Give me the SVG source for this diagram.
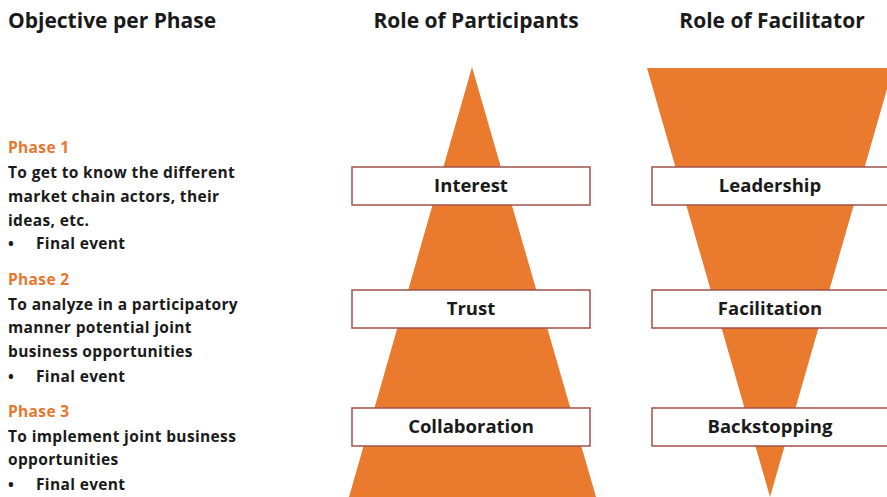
<svg xmlns="http://www.w3.org/2000/svg" width="887" height="497" viewBox="0 0 887 497">
<style>
text{font-family:"Open Sans","Liberation Sans",sans-serif;font-weight:700;fill:#1a1a1a}
.h{font-size:21px}
.b{font-size:15.5px;letter-spacing:0.35px}
.ph{fill:#E8762E}
.lbl{font-size:18.5px;text-anchor:middle}
.shape{fill:#E97A2E}
.box{fill:#fff;stroke:#A0524A;stroke-width:1.5}
</style>
<rect width="887" height="497" fill="#fff"/>
<g id="headers">
<text class="h" x="8" y="28">Objective per Phase</text>
<text class="h" x="476" y="28" text-anchor="middle">Role of Participants</text>
<text class="h" x="772" y="28" text-anchor="middle">Role of Facilitator</text>
</g>
<g id="objectives">
<text class="b ph" x="8" y="153">Phase 1</text>
<text class="b" x="8" y="178">To get to know the different</text>
<text class="b" x="8" y="202">market chain actors, their</text>
<text class="b" x="8" y="226">ideas, etc.</text>
<text class="b" x="8" y="249">•</text><text class="b" x="36" y="249">Final event</text>
<text class="b ph" x="8" y="285">Phase 2</text>
<text class="b" x="8" y="310">To analyze in a participatory</text>
<text class="b" x="8" y="333">manner potential joint</text>
<text class="b" x="8" y="357">business opportunities</text>
<text class="b" x="8" y="382">•</text><text class="b" x="36" y="382">Final event</text>
<text class="b ph" x="8" y="417">Phase 3</text>
<text class="b" x="8" y="442">To implement joint business</text>
<text class="b" x="8" y="465">opportunities</text>
<text class="b" x="8" y="490">•</text><text class="b" x="36" y="490">Final event</text>
</g>
<g id="participants-triangle"><polygon class="shape" points="472,67 596,497 349,497"/></g>
<g id="facilitator-funnel"><polygon class="shape" points="647,68 893,68 770,497"/></g>
<g id="node-interest"><rect class="box" x="352" y="167" width="238" height="38"/><text class="lbl" x="471" y="192">Interest</text></g>
<g id="node-trust"><rect class="box" x="352" y="290" width="238" height="38"/><text class="lbl" x="471" y="315">Trust</text></g>
<g id="node-collaboration"><rect class="box" x="352" y="408" width="238" height="38"/><text class="lbl" x="471" y="433">Collaboration</text></g>
<g id="node-leadership"><rect class="box" x="652" y="167" width="240" height="38"/><text class="lbl" x="770" y="192">Leadership</text></g>
<g id="node-facilitation"><rect class="box" x="652" y="290" width="240" height="38"/><text class="lbl" x="770" y="315">Facilitation</text></g>
<g id="node-backstopping"><rect class="box" x="652" y="408" width="240" height="38"/><text class="lbl" x="770" y="433">Backstopping</text></g>
<g id="connectors"></g>
</svg>
